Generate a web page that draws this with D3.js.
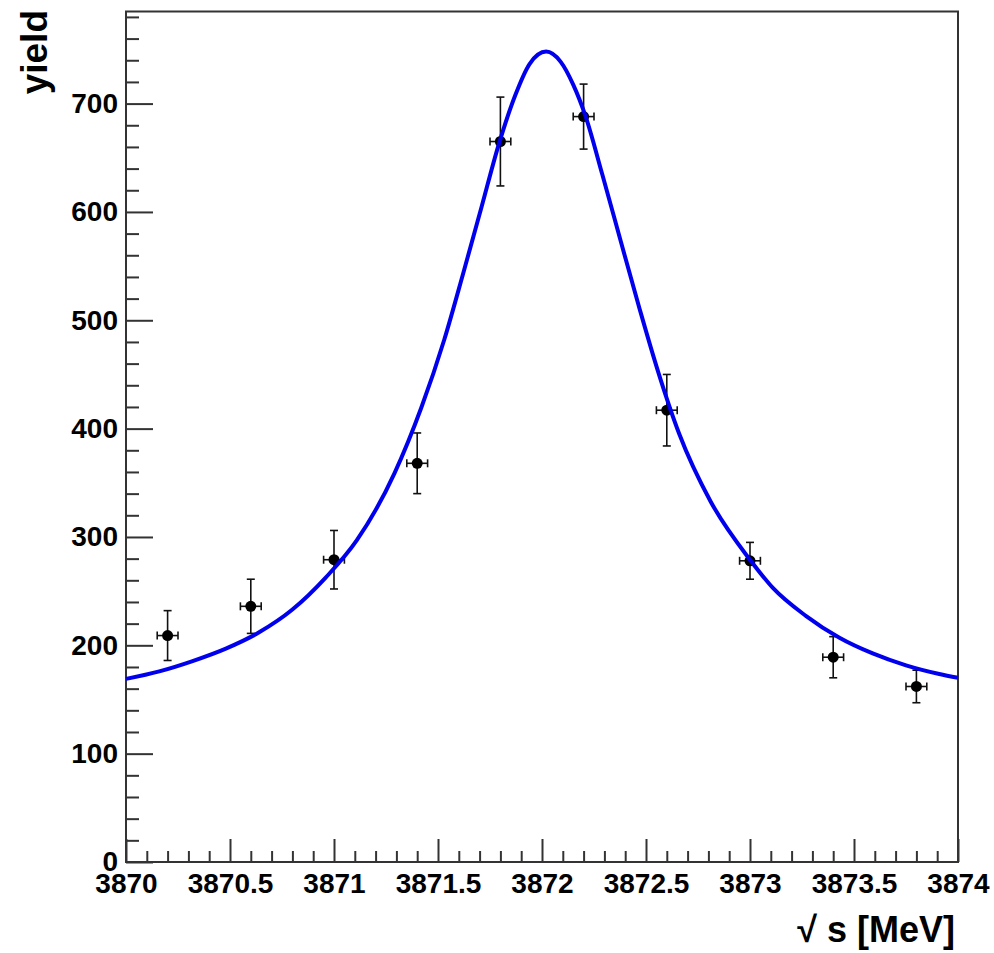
<!DOCTYPE html>
<html>
<head>
<meta charset="utf-8">
<script src="https://cdn.jsdelivr.net/npm/d3@7"></script>
<style>
  html, body { margin: 0; padding: 0; background: #ffffff; }
  svg { display: block; }
  text { font-family: "Liberation Sans", Arial, Helvetica, sans-serif; font-weight: bold; fill: #000; }
</style>
</head>
<body>
<svg id="chart" width="994" height="953"></svg>
<script>
// ---- Data ----
const pointX    = [3870.2, 3870.6, 3871.0, 3871.4, 3871.8, 3872.2, 3872.6, 3873.0, 3873.4, 3873.8];
const pointY    = [209, 236, 279, 368, 665, 688, 417, 278, 189, 162];
const pointYErr = [23, 25, 27, 28, 41, 30, 33, 17, 19, 15];
const pointXErr = [0.05, 0.05, 0.05, 0.05, 0.05, 0.05, 0.05, 0.05, 0.05, 0.05];

// fit curve
const curveX = [3870.00, 3870.16, 3870.32, 3870.48, 3870.64, 3870.80, 3870.96, 3871.11, 3871.29, 3871.42,
                3871.53, 3871.62, 3871.71, 3871.79, 3871.87, 3871.94, 3872.02, 3872.09, 3872.15, 3872.21,
                3872.29, 3872.38, 3872.47, 3872.56, 3872.66, 3872.81, 3873.00, 3873.11, 3873.27, 3873.43,
                3873.59, 3873.75, 3873.91, 3874.00];
const curveY = [169, 176, 185.5, 197, 212, 233, 262.5, 297, 358.5, 419.5,
                482, 542.5, 605, 661, 707, 736.5, 748, 738.5, 717.5, 688,
                634.5, 572, 510, 451.5, 395, 333, 279, 253, 227, 207,
                192.5, 181.5, 173.5, 170];

const xTickValues = [3870, 3870.5, 3871, 3871.5, 3872, 3872.5, 3873, 3873.5, 3874];
const xTickLabels = ["3870", "3870.5", "3871", "3871.5", "3872", "3872.5", "3873", "3873.5", "3874"];
const yTickValues = [0, 100, 200, 300, 400, 500, 600, 700];
const yTickLabels = ["0", "100", "200", "300", "400", "500", "600", "700"];
const xTitle = "\u221A s [MeV]";
const yTitle = "yield";

(function () {
// ---- Layout ----
const mLeft = 126, mRight = 958, mTop = 11.5, mBottom = 862;
const svg = d3.select("#chart");

const x = d3.scaleLinear().domain([3870, 3874]).range([mLeft, mRight]);
const y = d3.scaleLinear().domain([0, 785]).range([mBottom, mTop]);

const axisColor = "#333";

// minor tick positions
const xMinor = d3.range(0, 41).map(i => 3870 + i * 0.1).filter(v => Math.abs(v * 2 - Math.round(v * 2)) > 1e-6);
const yMinor = d3.range(0, 40).map(i => i * 20).filter(v => v % 100 !== 0 && v <= 785);

// Y axis
svg.append("g").attr("transform", `translate(${mLeft},0)`)
  .call(d3.axisLeft(y).tickValues(yTickValues).tickFormat((d, i) => yTickLabels[i])
    .tickSizeInner(-27).tickSizeOuter(0).tickPadding(8));
svg.append("g").attr("transform", `translate(${mLeft},0)`)
  .call(d3.axisLeft(y).tickValues(yMinor).tickFormat("").tickSizeInner(-13).tickSizeOuter(0));

// X axis
svg.append("g").attr("transform", `translate(0,${mBottom})`)
  .call(d3.axisBottom(x).tickValues(xTickValues).tickFormat((d, i) => xTickLabels[i])
    .tickSizeInner(-23).tickSizeOuter(0).tickPadding(11));
svg.append("g").attr("transform", `translate(0,${mBottom})`)
  .call(d3.axisBottom(x).tickValues(xMinor).tickFormat("").tickSizeInner(-11).tickSizeOuter(0));

svg.selectAll(".domain").remove();
svg.selectAll(".tick line").attr("stroke", axisColor).attr("stroke-width", 2);
svg.selectAll(".tick text").attr("font-size", 28).attr("font-family", "Liberation Sans, Arial, sans-serif")
  .attr("font-weight", "bold").attr("fill", "#000");

// Frame
svg.append("rect")
  .attr("x", mLeft).attr("y", mTop)
  .attr("width", mRight - mLeft).attr("height", mBottom - mTop)
  .attr("fill", "none").attr("stroke", axisColor).attr("stroke-width", 2);

// Titles
svg.append("text")
  .attr("x", 955).attr("y", 942)
  .attr("text-anchor", "end")
  .attr("font-size", 36)
  .text(xTitle);

svg.append("text")
  .attr("transform", "translate(47,10) rotate(-90)")
  .attr("text-anchor", "end")
  .attr("font-size", 37)
  .text(yTitle);

// Data points with error bars
const pts = pointX.map((vx, i) => ({ x: vx, y: pointY[i], ey: pointYErr[i], ex: pointXErr[i] }));
const gp = svg.append("g").attr("stroke", "#111").attr("stroke-width", 1.6);
const cap = 4;
pts.forEach(p => {
  const cx = x(p.x), cy = y(p.y);
  gp.append("line").attr("x1", cx).attr("x2", cx).attr("y1", y(p.y + p.ey)).attr("y2", y(p.y - p.ey));
  gp.append("line").attr("x1", cx - cap).attr("x2", cx + cap).attr("y1", y(p.y + p.ey)).attr("y2", y(p.y + p.ey));
  gp.append("line").attr("x1", cx - cap).attr("x2", cx + cap).attr("y1", y(p.y - p.ey)).attr("y2", y(p.y - p.ey));
  gp.append("line").attr("x1", x(p.x - p.ex)).attr("x2", x(p.x + p.ex)).attr("y1", cy).attr("y2", cy);
  gp.append("line").attr("x1", x(p.x - p.ex)).attr("x2", x(p.x - p.ex)).attr("y1", cy - cap).attr("y2", cy + cap);
  gp.append("line").attr("x1", x(p.x + p.ex)).attr("x2", x(p.x + p.ex)).attr("y1", cy - cap).attr("y2", cy + cap);
});
svg.append("g").selectAll("circle").data(pts).join("circle")
  .attr("cx", d => x(d.x)).attr("cy", d => y(d.y)).attr("r", 5.5).attr("fill", "#000");

// Fit curve
const line = d3.line().x(d => x(d[0])).y(d => y(d[1])).curve(d3.curveMonotoneX);
svg.append("path")
  .datum(curveX.map((v, i) => [v, curveY[i]]))
  .attr("d", line)
  .attr("fill", "none")
  .attr("stroke", "#0000ee")
  .attr("stroke-width", 4);
})();
</script>
</body>
</html>
